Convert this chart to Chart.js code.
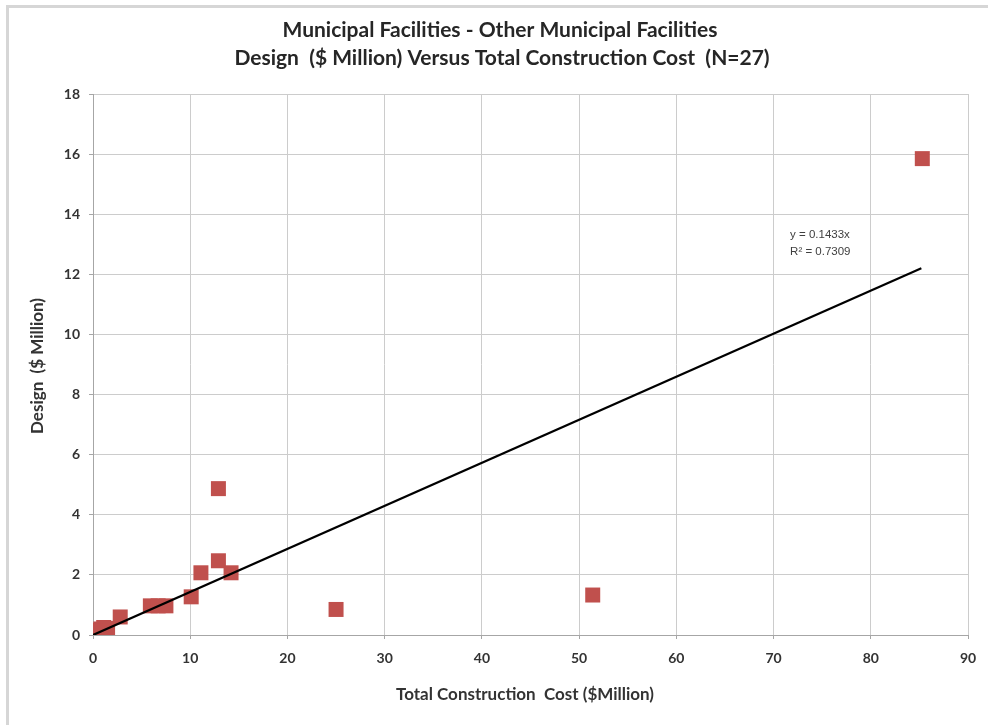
<!DOCTYPE html>
<html>
<head>
<meta charset="utf-8">
<script src="https://cdn.jsdelivr.net/npm/chart.js@4.4.1/dist/chart.umd.min.js"></script>
<style>
html,body{margin:0;padding:0;background:#fff;}
#wrap{position:relative;width:988px;height:725px;}
canvas{display:block;}
</style>
</head>
<body>
<div id="wrap"><canvas id="c" width="988" height="725"></canvas></div>
<script>
// Data
const costX = [85.3, 12.9, 12.9, 11.1, 14.2, 10.1, 5.9, 6.7, 7.5, 2.8, 25.0, 51.4,
               0.1, 0.2, 0.3, 0.4, 0.5, 0.6, 0.7, 0.8, 0.9, 1.0, 1.1, 1.3, 1.5, 0.25, 1.2];
const designY = [15.85, 4.87, 2.47, 2.07, 2.07, 1.27, 0.97, 0.97, 0.97, 0.6, 0.85, 1.33,
                 0.02, 0.05, 0.03, 0.1, 0.08, 0.15, 0.05, 0.2, 0.12, 0.1, 0.25, 0.18, 0.22, 0.12, 0.05];
const trendX = [0, 85.2];
const trendY = [0, 12.2];
const xTicks = [0, 10, 20, 30, 40, 50, 60, 70, 80, 90];
const yTicks = [0, 2, 4, 6, 8, 10, 12, 14, 16, 18];
const titleLines = ["Municipal Facilities - Other Municipal Facilities",
                    "Design  ($ Million) Versus Total Construction Cost  (N=27)"];
const xTitle = "Total Construction  Cost ($Million)";
const yTitle = "Design  ($ Million)";
const trendLabel = ["y = 0.1433x", "R\u00B2 = 0.7309"];

const points = costX.map((x, i) => ({x: x, y: designY[i]}));
const trendPts = trendX.map((x, i) => ({x: x, y: trendY[i]}));

const FONT = "Lato, 'Open Sans', sans-serif";
const TXT = "#333333";

const decor = {
  id: 'decor',
  beforeDraw(chart) {
    const ctx = chart.ctx;
    ctx.save();
    ctx.fillStyle = '#ffffff';
    ctx.fillRect(0, 0, chart.width, chart.height);
    ctx.fillStyle = '#d6d6d6';
    ctx.fillRect(6, 5, chart.width - 6, 3);
    ctx.fillRect(6, 5, 3, chart.height - 5);
    ctx.restore();
  },
  afterDraw(chart) {
    const ctx = chart.ctx;
    const xs = chart.scales.x, ys = chart.scales.y;
    ctx.save();
    ctx.fillStyle = '#262626';
    ctx.textAlign = 'center';
    ctx.textBaseline = 'middle';
    ctx.font = "bold 21px " + FONT;
    ctx.fillText(titleLines[0], 500, 30);
    ctx.fillText(titleLines[1], 502, 58);
    ctx.fillStyle = TXT;
    ctx.font = "bold 17px " + FONT;
    ctx.fillText(xTitle, 525, 695);
    ctx.save();
    ctx.translate(38, 366);
    ctx.rotate(-Math.PI / 2);
    ctx.font = "bold 17px " + FONT;
    ctx.fillText(yTitle, 0, 0);
    ctx.restore();
    ctx.fillStyle = '#404040';
    ctx.font = "11.5px 'Liberation Sans', sans-serif";
    ctx.textAlign = 'left';
    ctx.fillText(trendLabel[0], xs.getPixelForValue(71.7), ys.getPixelForValue(13.3));
    ctx.fillText(trendLabel[1], xs.getPixelForValue(71.7), ys.getPixelForValue(12.75));
    ctx.restore();
  }
};

new Chart(document.getElementById('c'), {
  type: 'scatter',
  data: {
    datasets: [
      {
        type: 'line',
        data: trendPts,
        borderColor: '#000000',
        borderWidth: 2.2,
        pointRadius: 0,
        fill: false,
        order: 0
      },
      {
        data: points,
        pointStyle: 'rect',
        pointRadius: 10.6,
        pointHoverRadius: 10.6,
        backgroundColor: '#C0504D',
        borderWidth: 0,
        order: 1
      }
    ]
  },
  options: {
    responsive: false,
    animation: false,
    devicePixelRatio: 1,
    layout: {padding: {top: 94, left: 0, right: 20, bottom: 0}},
    plugins: {legend: {display: false}, title: {display: false}, tooltip: {enabled: false}},
    scales: {
      x: {
        type: 'linear',
        min: 0, max: 90,
        afterBuildTicks(s) { s.ticks = xTicks.map(v => ({value: v})); },
        afterFit(s) { s.height = 90; },
        ticks: {color: TXT, font: {family: FONT, size: 14, weight: 'bold'}, padding: 11, maxRotation: 0},
        grid: {color: '#cccccc', lineWidth: 1, tickLength: 4, tickColor: '#a6a6a6', drawTicks: true},
        border: {color: '#a6a6a6', width: 1}
      },
      y: {
        type: 'linear',
        min: 0, max: 18,
        afterBuildTicks(s) { s.ticks = yTicks.map(v => ({value: v})); },
        afterFit(s) { s.width = 93; },
        ticks: {color: TXT, font: {family: FONT, size: 14, weight: 'bold'}, padding: 9},
        grid: {color: '#cccccc', lineWidth: 1, tickLength: 4, tickColor: '#a6a6a6'},
        border: {color: '#a6a6a6', width: 1}
      }
    }
  },
  plugins: [decor]
});
</script>
</body>
</html>
